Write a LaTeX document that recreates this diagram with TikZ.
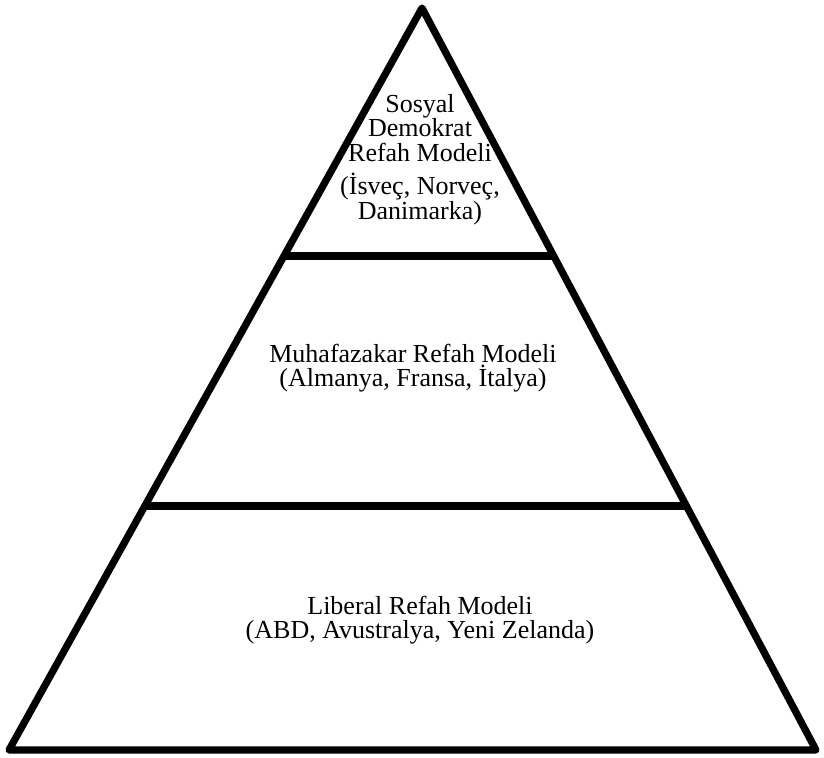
\documentclass[tikz,border=0pt]{standalone}
\usepackage{fontspec}
\setmainfont{Liberation Serif}
\usetikzlibrary{calc}

\begin{document}
\begin{tikzpicture} [x=0.5pt, y=-0.5pt, every node/.style={align=center, font=\fontsize{13}{12.2}\selectfont}]
            \useasboundingbox (0, 0) rectangle (824, 758);

            \coordinate (apex)  at (422, 8);
            \coordinate (left)  at (9, 750);
            \coordinate (right) at (816, 750);

            \draw[line width=3.6pt, line join=round] (apex) -- (right) -- (left) -- cycle;
            \draw[line width=3.6pt] ($(left)!0.6658!(apex)$) -- ($(right)!0.6658!(apex)$);
            \draw[line width=3.6pt] ($(left)!0.3288!(apex)$) -- ($(right)!0.3288!(apex)$);

            \node (top) at (420, 128) {Sosyal\\Demokrat\\Refah Modeli};
            \node (topc) at (420, 199) {(İsveç, Norveç,\\Danimarka)};
            \node (mid) at (413, 368) {Muhafazakar Refah Modeli\\(Almanya, Fransa, İtalya)};
            \node (bot) at (420, 620) {Liberal Refah Modeli\\(ABD, Avustralya, Yeni Zelanda)};
        \end{tikzpicture}
\end{document}
